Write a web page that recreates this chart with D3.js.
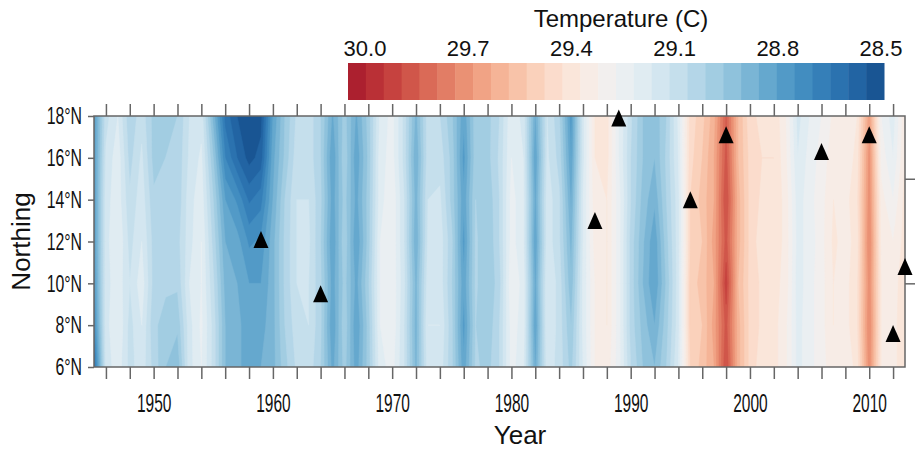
<!DOCTYPE html>
<html>
<head>
<meta charset="utf-8">
<script src="https://cdn.jsdelivr.net/npm/d3@7"></script>
<style>
  body { margin: 0; background: #fff; }
  svg text { font-family: "Liberation Sans", Arial, sans-serif; fill: #111; }
  .axis line, .axis path { stroke: #666; stroke-width: 1.5; }
</style>
</head>
<body>
<svg id="chart" width="918" height="450"></svg>
<script>
// years on x, latitude rows on y
var years = [1945, 1946, 1947, 1948, 1949, 1950, 1951, 1952, 1953, 1954,
             1955, 1956, 1957, 1958, 1959, 1960, 1961, 1962, 1963, 1964,
             1965, 1966, 1967, 1968, 1969, 1970, 1971, 1972, 1973, 1974,
             1975, 1976, 1977, 1978, 1979, 1980, 1981, 1982, 1983, 1984,
             1985, 1986, 1987, 1988, 1989, 1990, 1991, 1992, 1993, 1994,
             1995, 1996, 1997, 1998, 1999, 2000, 2001, 2002, 2003, 2004,
             2005, 2006, 2007, 2008, 2009, 2010, 2011, 2012, 2013];
var lats = [6, 8, 10, 12, 14, 16, 18];

// temperature (C), one row per year, columns follow lats (6N .. 18N)
var temps = [
  [28.62, 28.72, 28.76, 28.78, 28.78, 28.78, 28.78], // 1945
  [29.12, 29.13, 29.13, 29.13, 29.13, 29.11, 29.08],
  [29.18, 29.20, 29.18, 29.20, 29.18, 29.18, 29.15],
  [29.08, 29.08, 29.10, 29.08, 29.06, 29.03, 29.01],
  [29.13, 29.15, 29.18, 29.15, 29.13, 29.11, 29.08],
  [29.03, 29.01, 29.03, 29.03, 29.01, 28.98, 28.98], // 1950
  [28.95, 28.98, 29.01, 29.01, 29.00, 29.00, 28.98],
  [28.91, 28.96, 29.01, 29.03, 29.01, 29.01, 29.00],
  [29.13, 29.13, 29.15, 29.13, 29.13, 29.11, 29.10],
  [29.20, 29.21, 29.20, 29.20, 29.18, 29.16, 29.13],
  [29.08, 29.08, 29.06, 29.03, 29.00, 28.95, 28.88], // 1955
  [28.90, 28.90, 28.88, 28.85, 28.80, 28.70, 28.63],
  [28.86, 28.86, 28.85, 28.82, 28.74, 28.60, 28.55],
  [28.83, 28.83, 28.80, 28.74, 28.64, 28.53, 28.48],
  [28.85, 28.83, 28.80, 28.76, 28.68, 28.57, 28.53],
  [28.88, 28.88, 28.88, 28.88, 28.85, 28.83, 28.80], // 1960
  [28.98, 29.00, 29.01, 29.01, 29.00, 28.96, 28.95],
  [29.06, 29.08, 29.10, 29.10, 29.10, 29.08, 29.06],
  [29.08, 29.10, 29.10, 29.11, 29.10, 29.08, 29.08],
  [29.00, 29.01, 29.01, 29.00, 29.01, 29.00, 29.00],
  [28.83, 28.80, 28.82, 28.80, 28.82, 28.80, 28.84], // 1965
  [28.97, 28.99, 28.97, 28.99, 28.97, 28.99, 28.97],
  [28.82, 28.80, 28.83, 28.80, 28.83, 28.81, 28.84],
  [28.97, 28.97, 28.99, 28.97, 28.97, 28.96, 28.97],
  [29.18, 29.20, 29.20, 29.20, 29.18, 29.18, 29.16],
  [29.22, 29.24, 29.24, 29.24, 29.24, 29.22, 29.22], // 1970
  [29.10, 29.10, 29.11, 29.10, 29.10, 29.08, 29.08],
  [28.88, 28.87, 28.88, 28.85, 28.87, 28.85, 28.88],
  [29.13, 29.15, 29.13, 29.11, 29.10, 29.08, 29.08],
  [29.13, 29.15, 29.13, 29.13, 29.11, 29.08, 29.05],
  [29.01, 29.01, 29.00, 29.01, 28.98, 28.98, 28.96], // 1975
  [28.81, 28.78, 28.81, 28.78, 28.81, 28.78, 28.81],
  [29.01, 29.00, 29.01, 29.01, 29.00, 28.98, 28.98],
  [28.98, 28.96, 28.95, 28.95, 28.96, 28.98, 28.98],
  [29.05, 29.05, 29.03, 29.05, 29.05, 29.06, 29.05],
  [29.22, 29.22, 29.24, 29.22, 29.22, 29.20, 29.19], // 1980
  [29.16, 29.18, 29.18, 29.16, 29.16, 29.15, 29.13],
  [28.84, 28.80, 28.83, 28.80, 28.83, 28.80, 28.84],
  [29.13, 29.15, 29.15, 29.13, 29.13, 29.11, 29.10],
  [29.08, 29.08, 29.08, 29.06, 29.06, 29.03, 29.01],
  [28.98, 28.95, 28.91, 28.88, 28.84, 28.80, 28.77], // 1985
  [29.15, 29.16, 29.16, 29.15, 29.15, 29.13, 29.13],
  [29.30, 29.30, 29.30, 29.32, 29.33, 29.35, 29.35],
  [29.33, 29.35, 29.35, 29.35, 29.35, 29.37, 29.37],
  [29.22, 29.22, 29.22, 29.22, 29.22, 29.20, 29.20],
  [29.05, 29.03, 29.03, 29.03, 29.05, 29.05, 29.06], // 1990
  [28.95, 28.93, 28.90, 28.91, 28.93, 28.95, 28.95],
  [28.90, 28.85, 28.80, 28.81, 28.86, 28.90, 28.91],
  [29.00, 28.98, 28.96, 28.98, 29.00, 29.01, 29.00],
  [29.15, 29.13, 29.13, 29.13, 29.13, 29.15, 29.16],
  [29.45, 29.47, 29.47, 29.45, 29.45, 29.43, 29.42], // 1995
  [29.52, 29.50, 29.52, 29.50, 29.52, 29.50, 29.48],
  [29.60, 29.62, 29.60, 29.62, 29.60, 29.60, 29.58],
  [29.85, 29.82, 29.88, 29.82, 29.85, 29.82, 29.80],
  [29.57, 29.57, 29.55, 29.57, 29.57, 29.55, 29.55],
  [29.43, 29.43, 29.43, 29.43, 29.43, 29.43, 29.41], // 2000
  [29.37, 29.39, 29.39, 29.37, 29.39, 29.40, 29.39],
  [29.37, 29.37, 29.37, 29.39, 29.39, 29.40, 29.39],
  [29.31, 29.31, 29.33, 29.33, 29.33, 29.31, 29.30],
  [29.18, 29.18, 29.17, 29.18, 29.17, 29.15, 29.13],
  [29.23, 29.23, 29.23, 29.22, 29.23, 29.22, 29.20], // 2005
  [29.28, 29.28, 29.28, 29.28, 29.28, 29.27, 29.25],
  [29.33, 29.35, 29.35, 29.36, 29.35, 29.33, 29.31],
  [29.31, 29.33, 29.33, 29.33, 29.33, 29.31, 29.30],
  [29.37, 29.39, 29.39, 29.37, 29.39, 29.37, 29.35],
  [29.68, 29.70, 29.68, 29.70, 29.68, 29.67, 29.63], // 2010
  [29.35, 29.35, 29.35, 29.33, 29.32, 29.28, 29.25],
  [29.33, 29.33, 29.32, 29.30, 29.25, 29.20, 29.17],
  [29.39, 29.39, 29.39, 29.37, 29.37, 29.35, 29.34]  // 2013
];

// triangle markers
var eventYears = [1959, 1964, 1987, 1989, 1995, 1998, 2006, 2010, 2012, 2013];
var eventLats  = [12.1, 9.5, 13.0, 17.9, 14.0, 17.1, 16.3, 17.1, 7.6, 10.8];

// colour key: 30 bands of 0.05 C from 30.0 down to 28.5
var bandLows = [29.95, 29.90, 29.85, 29.80, 29.75, 29.70, 29.65, 29.60, 29.55, 29.50,
                29.45, 29.40, 29.35, 29.30, 29.25, 29.20, 29.15, 29.10, 29.05, 29.00,
                28.95, 28.90, 28.85, 28.80, 28.75, 28.70, 28.65, 28.60, 28.55, 28.50];
var keyLabels = [30.0, 29.7, 29.4, 29.1, 28.8, 28.5];

var yearTicks = [1946, 1948, 1950, 1952, 1954, 1956, 1958, 1960, 1962, 1964, 1966,
                 1968, 1970, 1972, 1974, 1976, 1978, 1980, 1982, 1984, 1986, 1988,
                 1990, 1992, 1994, 1996, 1998, 2000, 2002, 2004, 2006, 2008, 2010, 2012];
var latTicks = [6, 8, 10, 12, 14, 16, 18];
var rightTicks = [10, 15];

var svg = d3.select("#chart");
var plot = { left: 94, right: 905, top: 116, bottom: 367 };

var x = d3.scaleLinear().domain([1945, 2013]).range([plot.left, plot.right]);
var y = d3.scaleLinear().domain([6, 18]).range([plot.bottom, plot.top]);

var nBands = bandLows.length;
function bandColor(i) { return d3.interpolateRdBu(0.1 + i * 0.83 / (nBands - 1)); }

// ---- filled contours ----
var nx = years.length, ny = lats.length;
var grid = new Array(nx * ny);
for (var j = 0; j < ny; j++) {
  for (var i = 0; i < nx; i++) {
    grid[j * nx + i] = temps[i][j];
  }
}
// grid index k sits at k + 0.5 in contour space
var gx = d3.scaleLinear().domain([0.5, nx - 0.5]).range([x(years[0]), x(years[nx - 1])]);
var gy = d3.scaleLinear().domain([0.5, ny - 0.5]).range([y(lats[0]), y(lats[ny - 1])]);
var proj = d3.geoTransform({ point: function (px, py) { this.stream.point(gx(px), gy(py)); } });
var path = d3.geoPath(proj);

svg.append("clipPath").attr("id", "clip")
  .append("rect")
  .attr("x", plot.left).attr("y", plot.top)
  .attr("width", plot.right - plot.left).attr("height", plot.bottom - plot.top);

var field = svg.append("g").attr("clip-path", "url(#clip)");

field.append("rect")
  .attr("x", plot.left).attr("y", plot.top)
  .attr("width", plot.right - plot.left).attr("height", plot.bottom - plot.top)
  .attr("fill", bandColor(nBands - 1));

// ascending thresholds, skip the lowest band (already the background)
var levels = bandLows.slice(0, nBands - 1).reverse();
var contours = d3.contours().size([nx, ny]).thresholds(levels)(grid);

field.selectAll("path.band")
  .data(contours)
  .enter().append("path")
  .attr("class", "band")
  .attr("d", path)
  .attr("fill", function (d) { return bandColor(bandLows.indexOf(d.value)); })
  .attr("stroke", function (d) { return bandColor(bandLows.indexOf(d.value)); })
  .attr("stroke-width", 0.5);

// ---- frame + axes ----
svg.append("rect")
  .attr("x", plot.left).attr("y", plot.top)
  .attr("width", plot.right - plot.left).attr("height", plot.bottom - plot.top)
  .attr("fill", "none").attr("stroke", "#666").attr("stroke-width", 1.5);

var fmtYear = function (d) { return d % 10 === 0 ? d : ""; };

var xAxis = svg.append("g").attr("class", "axis")
  .attr("transform", "translate(0," + plot.bottom + ")")
  .call(d3.axisBottom(x).tickValues(yearTicks).tickSize(12).tickPadding(15).tickFormat(fmtYear));
xAxis.select(".domain").remove();
// the tick labels are set in a tall, condensed face
xAxis.selectAll("text").style("font-size", "25px").attr("transform", "scale(0.62,1)");

var xTop = svg.append("g").attr("class", "axis")
  .attr("transform", "translate(0," + plot.top + ")")
  .call(d3.axisTop(x).tickValues(yearTicks).tickSize(12).tickFormat(""));
xTop.select(".domain").remove();

var yAxis = svg.append("g").attr("class", "axis")
  .attr("transform", "translate(" + plot.left + ",0)")
  .call(d3.axisLeft(y).tickValues(latTicks).tickSize(6)
    .tickFormat(function (d) { return d + "\u00b0N"; }));
yAxis.select(".domain").remove();
yAxis.selectAll("text").style("font-size", "24px")
  .attr("x", -12 / 0.66).attr("transform", "scale(0.66,1)");

var yRight = svg.append("g").attr("class", "axis")
  .attr("transform", "translate(" + plot.right + ",0)")
  .call(d3.axisRight(y).tickValues(rightTicks).tickSize(10).tickFormat(""));
yRight.select(".domain").remove();

svg.append("text")
  .attr("transform", "translate(30," + ((plot.top + plot.bottom) / 2) + ") rotate(-90)")
  .attr("text-anchor", "middle")
  .style("font-size", "26px")
  .text("Northing");

svg.append("text")
  .attr("x", 520).attr("y", 444)
  .attr("text-anchor", "middle")
  .style("font-size", "26px")
  .text("Year");

// ---- triangles ----
svg.append("g").selectAll("path.evt")
  .data(eventYears)
  .enter().append("path")
  .attr("class", "evt")
  .attr("d", "M0,-8.5L7.5,8.5L-7.5,8.5Z")
  .attr("transform", function (d, i) { return "translate(" + x(d) + "," + y(eventLats[i]) + ")"; })
  .attr("fill", "#000");

// ---- colour key ----
var keyX = d3.scaleBand().domain(d3.range(nBands)).range([348, 884]);
var key = svg.append("g");
key.selectAll("rect")
  .data(bandLows)
  .enter().append("rect")
  .attr("x", function (d, i) { return keyX(i); })
  .attr("y", 63)
  .attr("width", keyX.bandwidth() + 0.5)
  .attr("height", 37)
  .attr("fill", function (d, i) { return bandColor(i); });

var keyLab = d3.scaleLinear().domain([30.0, 28.5]).range([365, 881]);
key.selectAll("text.klab")
  .data(keyLabels)
  .enter().append("text")
  .attr("class", "klab")
  .attr("x", function (d) { return keyLab(d); })
  .attr("y", 56)
  .attr("text-anchor", "middle")
  .style("font-size", "22px")
  .text(function (d) { return d.toFixed(1); });

svg.append("text")
  .attr("x", 621).attr("y", 27)
  .attr("text-anchor", "middle")
  .style("font-size", "24px")
  .text("Temperature (C)");
</script>
</body>
</html>
